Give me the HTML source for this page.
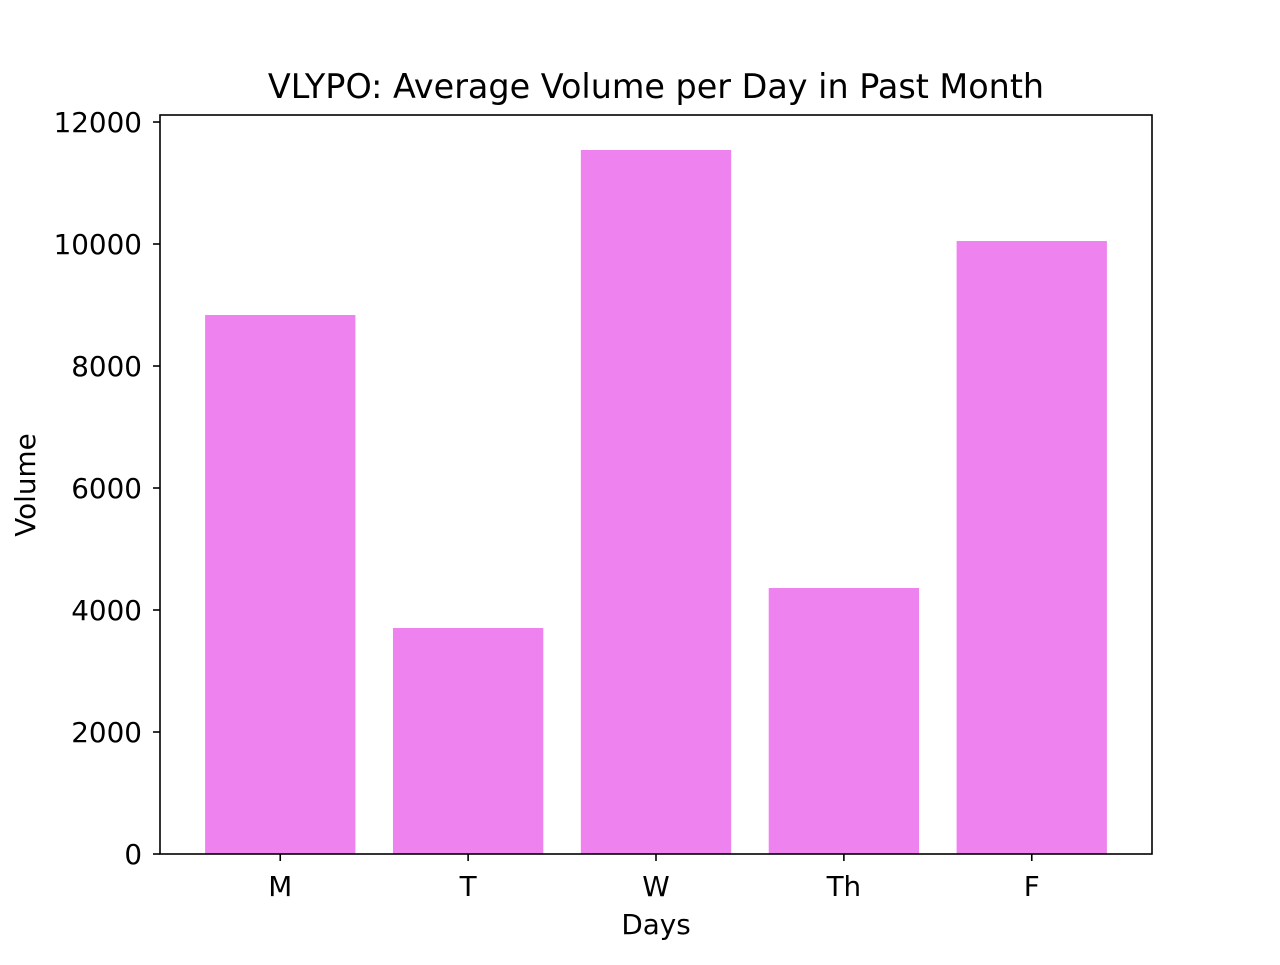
<!DOCTYPE html>
<html><head><meta charset="utf-8"><style>
html,body{margin:0;padding:0;background:#fff;}
svg text{font-family:"DejaVu Sans","Liberation Sans",sans-serif;fill:#000;}
</style></head><body>
<svg id="chart" width="1280" height="960" xmlns="http://www.w3.org/2000/svg">
<text x="656" y="98" font-size="33.4" text-anchor="middle">VLYPO: Average Volume per Day in Past Month</text>
<g id="bars"></g>
<g id="axes"></g>
<text x="656" y="934" font-size="27.8" text-anchor="middle">Days</text>
<text transform="translate(35,485) rotate(-90)" font-size="27.8" text-anchor="middle">Volume</text>
</svg>
<script>
const categories = ["M","T","W","Th","F"];
const values = [8836, 3705, 11541, 4361, 10049];
const yTicks = [0,2000,4000,6000,8000,10000,12000];
const L=160,R=1152,T=115,B=854;
const yMax=12115;
const xMin=-0.64,xMax=4.64;
const sx=v=>L+(v-xMin)/(xMax-xMin)*(R-L);
const sy=v=>B-v/yMax*(B-T);
const NS="http://www.w3.org/2000/svg";
const bars=document.getElementById('bars'),axes=document.getElementById('axes');
function mk(tag,attrs,parent){const e=document.createElementNS(NS,tag);for(const k in attrs)e.setAttribute(k,attrs[k]);parent.appendChild(e);return e;}
categories.forEach((c,i)=>{
  const r=mk('rect',{x:sx(i-0.4),y:sy(values[i]),width:sx(i+0.4)-sx(i-0.4),height:sy(0)-sy(values[i]),fill:'#ee82ee'},bars);
  
  
  const t=mk('line',{x1:sx(i),x2:sx(i),y1:B,y2:B+7,stroke:'#000','stroke-width':1.6},axes);
  
  
  const l=mk('text',{x:sx(i),y:B+42,'font-size':27.8,'text-anchor':'middle'},axes);
  l.textContent=c;
  
  
});
yTicks.forEach(v=>{
  const t=mk('line',{x1:L-7,x2:L,y1:sy(v),y2:sy(v),stroke:'#000','stroke-width':1.6},axes);
  
  
  const l=mk('text',{x:L-18,y:sy(v)+10,'font-size':27.8,'text-anchor':'end'},axes);
  l.textContent=v;
  
  
});
const f=mk('rect',{x:L,y:T,width:R-L,height:B-T,fill:'none',stroke:'#000','stroke-width':1.6},axes);


</script>
</body></html>
